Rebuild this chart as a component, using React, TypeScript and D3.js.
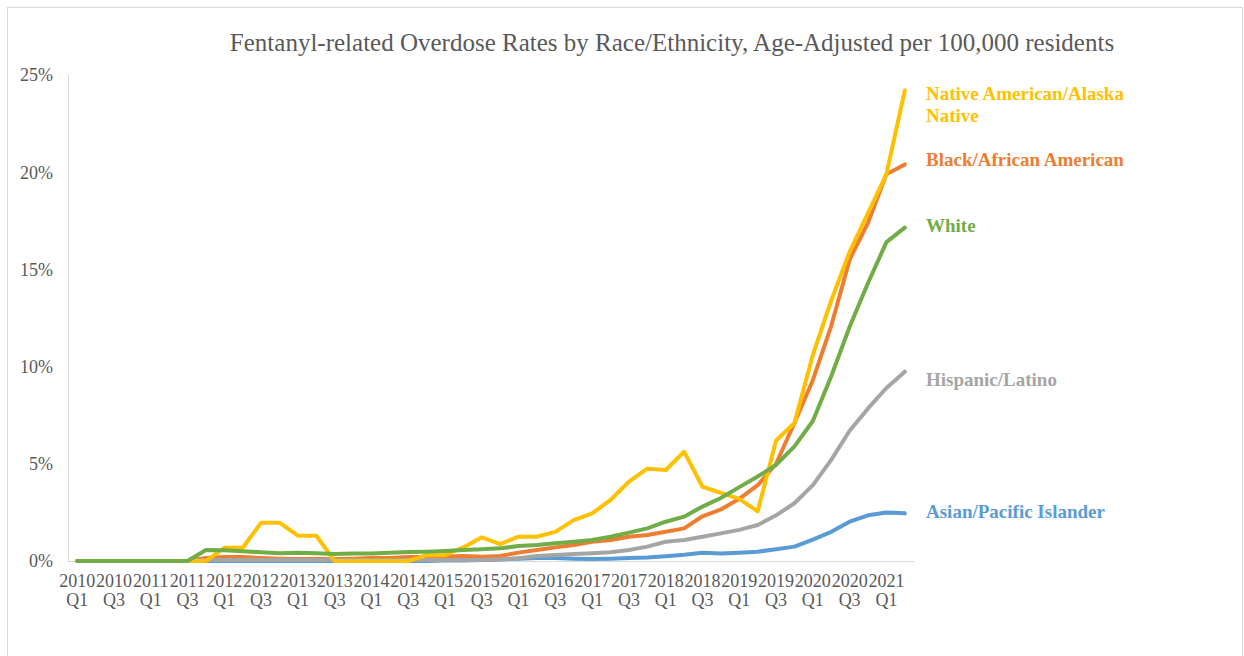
import React from "react";
import * as d3 from "d3";

const quarters: string[] = [];
for (let y = 2010; y <= 2021; y++) {
  for (let q = 1; q <= 4; q++) {
    if (y === 2021 && q > 2) break;
    quarters.push(`${y} Q${q}`);
  }
}

const asian = [0,0,0,0,0,0,0,0,0,0,0,0,0,0,0,0,0,0,0,0,0.02,0.03,0.05,0.08,0.12,0.15,0.15,0.12,0.1,0.12,0.15,0.18,0.25,0.32,0.42,0.38,0.43,0.48,0.6,0.74,1.1,1.5,2.02,2.35,2.5,2.45];
const black = [0,0,0,0,0,0,0,0.15,0.2,0.2,0.15,0.12,0.1,0.1,0.1,0.12,0.15,0.15,0.2,0.2,0.22,0.26,0.22,0.26,0.43,0.57,0.7,0.82,0.99,1.08,1.25,1.34,1.5,1.68,2.3,2.65,3.2,3.9,5.0,7.1,9.3,12.1,15.5,17.4,19.9,20.4];
const hispanic = [0,0,0,0,0,0,0,0.05,0.05,0.05,0.05,0.05,0.05,0.05,0.05,0.05,0.05,0.05,0.05,0.05,0.05,0.05,0.05,0.09,0.14,0.26,0.31,0.36,0.4,0.45,0.57,0.74,0.99,1.08,1.25,1.42,1.6,1.85,2.35,2.97,3.9,5.2,6.7,7.85,8.9,9.74];
const native = [0,0,0,0,0,0,0,0,0.68,0.68,1.97,1.97,1.3,1.3,0,0,0,0,0,0.3,0.3,0.7,1.22,0.87,1.25,1.25,1.5,2.1,2.45,3.14,4.08,4.75,4.68,5.62,3.82,3.5,3.2,2.55,6.2,7.1,10.6,13.4,15.9,17.9,19.9,24.2];
const white = [0,0,0,0,0,0,0,0.57,0.55,0.5,0.45,0.4,0.43,0.4,0.36,0.38,0.38,0.42,0.46,0.48,0.52,0.57,0.6,0.65,0.77,0.82,0.91,0.99,1.08,1.25,1.46,1.68,2.02,2.28,2.8,3.24,3.8,4.35,4.94,5.9,7.2,9.5,12.05,14.3,16.4,17.15];

const seriesNames = ["Asian/Pacific Islander", "Black/African American", "Hispanic/Latino", "Native American/Alaska Native", "White"];
const seriesColors = ["#5B9BD5", "#ED7D31", "#A5A5A5", "#FFC000", "#70AD47"];
const seriesValues = [asian, black, hispanic, native, white];
const yTicks = [0, 5, 10, 15, 20, 25];

const labelLines: { lines: string[]; y: number; color: string }[] = [
  { lines: ["Native American/Alaska", "Native"], y: 100, color: "#FFC000" },
  { lines: ["Black/African American"], y: 166, color: "#ED7D31" },
  { lines: ["White"], y: 232, color: "#70AD47" },
  { lines: ["Hispanic/Latino"], y: 386, color: "#A5A5A5" },
  { lines: ["Asian/Pacific Islander"], y: 518, color: "#5B9BD5" },
];

export default function App() {
  const W = 1244, H = 656;
  const x = d3.scalePoint<string>().domain(quarters).range([68, 914]).padding(0.5);
  const y = d3.scaleLinear().domain([0, 25]).range([561, 75]);
  const line = d3.line<number>().x((_, i) => x(quarters[i])!).y((d) => y(d));
  const font = "'Liberation Serif', 'Times New Roman', serif";
  return (
    <svg width={W} height={H} style={{ position: "absolute", left: 0, top: 0, background: "#fff" }} fontFamily={font}>
      <rect x={7.5} y={7.5} width={1235} height={700} fill="#fff" stroke="#d9d9d9" strokeWidth={1} />
      <text x={672} y={51} textAnchor="middle" fontSize={25} fill="#595959">
        Fentanyl-related Overdose Rates by Race/Ethnicity, Age-Adjusted per 100,000 residents
      </text>
      <line x1={68.5} x2={68.5} y1={75} y2={561} stroke="#d9d9d9" strokeWidth={1} />
      <line x1={68} x2={914} y1={561.5} y2={561.5} stroke="#d9d9d9" strokeWidth={1} />
      {yTicks.map((t) => (
        <text key={t} x={53} y={y(t)} dy="0.35em" textAnchor="end" fontSize={18} fill="#595959">
          {t}%
        </text>
      ))}
      {quarters.map((q, i) =>
        i % 2 === 0 ? (
          <text key={q} x={x(q)} textAnchor="middle" fontSize={18} fill="#595959">
            <tspan x={x(q)} y={587}>{q.split(" ")[0]}</tspan>
            <tspan x={x(q)} y={606}>{q.split(" ")[1]}</tspan>
          </text>
        ) : null
      )}
      {seriesValues.map((vals, k) => (
        <path key={seriesNames[k]} d={line(vals)!} fill="none" stroke={seriesColors[k]} strokeWidth={4} strokeLinejoin="round" strokeLinecap="round" />
      ))}
      {labelLines.map((l) => (
        <text key={l.lines[0]} x={926} y={l.y} fontSize={19} fontWeight="bold" fill={l.color}>
          {l.lines.map((s, j) => (
            <tspan key={s} x={926} y={l.y + j * 22}>{s}</tspan>
          ))}
        </text>
      ))}
    </svg>
  );
}
